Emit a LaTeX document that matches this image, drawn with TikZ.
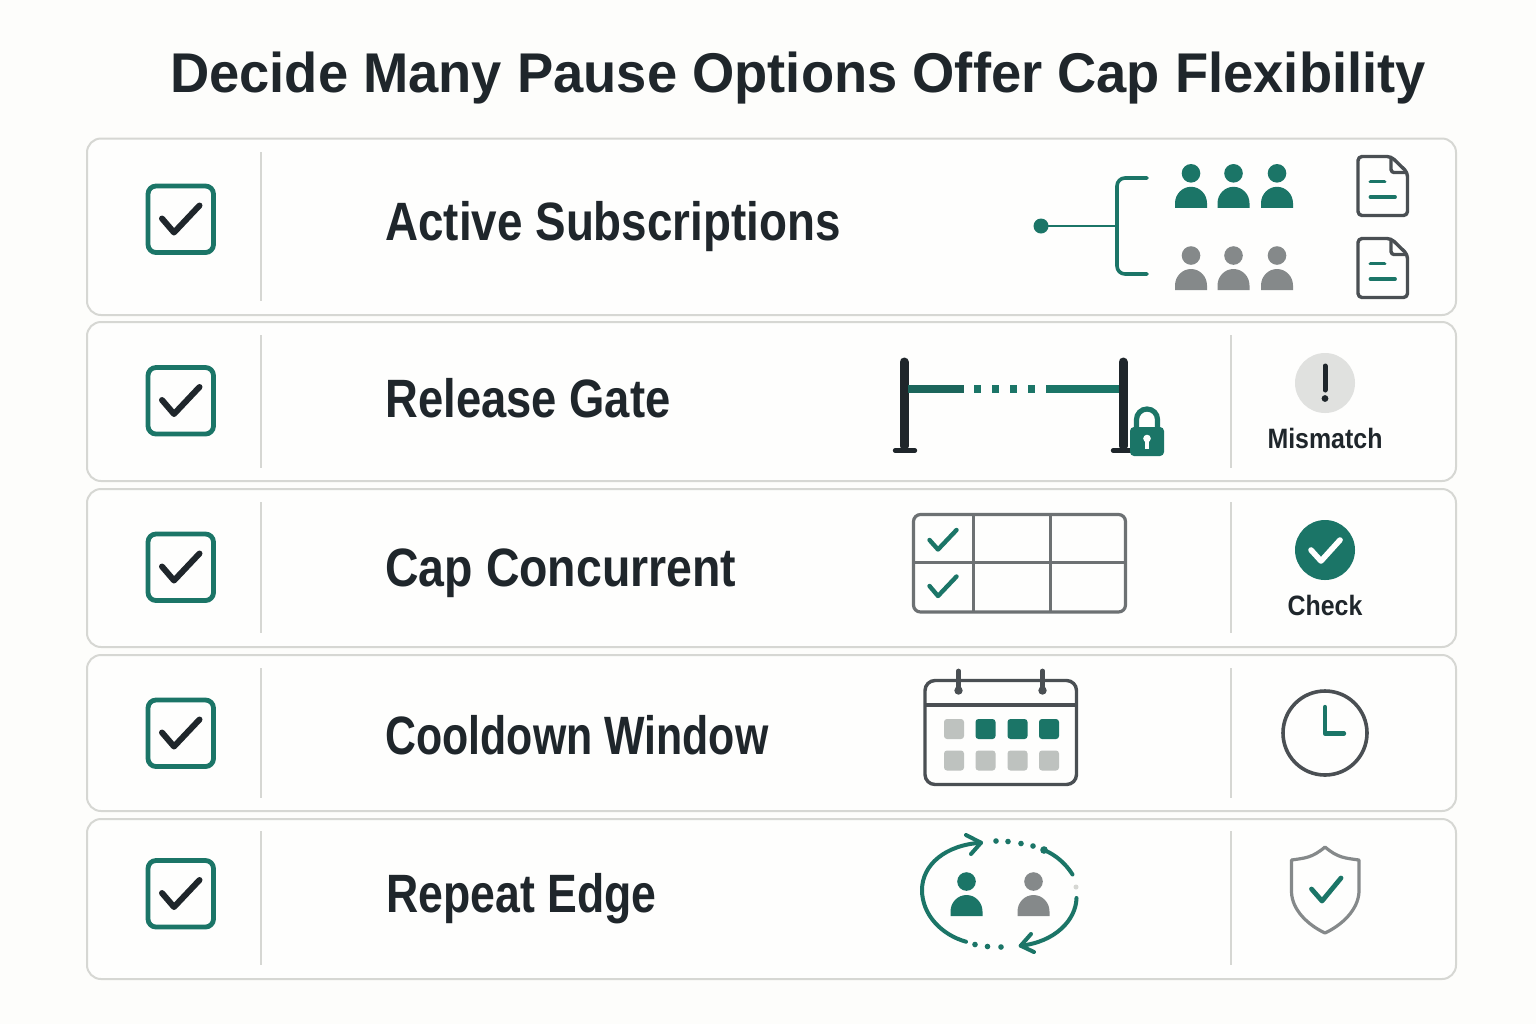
\documentclass[tikz,border=0pt]{standalone}
\usepackage{fontspec}
\setmainfont{Liberation Sans}
\newfontfamily\titlefont[FakeStretch=0.97]{Liberation Sans}
\newfontfamily\rowfont[FakeStretch=0.9]{Liberation Sans}
\newfontfamily\smallfont[FakeStretch=0.89]{Liberation Sans}
\definecolor{bgc}{HTML}{FDFDFB}
\definecolor{cardc}{HTML}{FEFEFD}
\definecolor{edgec}{HTML}{D6D7D3}
\definecolor{teal1}{HTML}{1B7567}
\definecolor{ink}{HTML}{1F262B}
\definecolor{greyp}{HTML}{85898A}
\definecolor{slate}{HTML}{4A4F53}
\definecolor{tablec}{HTML}{6D7173}
\definecolor{sq}{HTML}{BEC2BF}
\definecolor{badge}{HTML}{E0E1DF}
\tikzset{
  x=0.5pt,y=-0.5pt,
  card/.style={draw=edgec,line width=1pt,fill=cardc,rounded corners=7pt},
  divider/.style={draw=edgec,line width=0.9pt},
  boxst/.style={draw=teal1,line width=2.4pt,rounded corners=4pt},
  tick/.style={draw=ink,line width=3pt,line cap=round,line join=round},
  ticksmall/.style={draw=teal1,line width=2.2pt,line cap=round,line join=round},
  rowlabel/.style={anchor=base west,inner sep=0pt,font=\rowfont\fontsize{27}{30}\selectfont\bfseries,text=ink},
  sidelabel/.style={anchor=base,inner sep=0pt,font=\smallfont\fontsize{14}{16}\selectfont\bfseries,text=ink},
  tealline/.style={draw=teal1,line width=1.8pt,line cap=round},
  cycleline/.style={draw=teal1,line width=2pt,line cap=round,line join=round},
  docst/.style={draw=slate,line width=1.7pt,line join=round},
}
\newcommand{\persona}[3]{%
  \fill[#3] (#1,#2) circle (9.3);
  \fill[#3] (#1-16,#2+34.5) -- (#1-16,#2+30) arc[x radius=16,y radius=16.5,start angle=180,end angle=360] -- (#1+16,#2+34.5) -- cycle;
}
\newcommand{\docicon}[2]{%
  \draw[docst,rounded corners=2pt] (#1+33,#2) -- (#1,#2) -- (#1,#2+59) -- (#1+49.5,#2+59) -- (#1+49.5,#2+16) -- cycle;
  \draw[docst,rounded corners=1.5pt] (#1+33,#2+0.5) -- (#1+33,#2+16) -- (#1+49,#2+16);
  \draw[tealline,line width=1.9pt] (#1+12.5,#2+25) -- (#1+26.5,#2+25);
  \draw[tealline,line width=1.9pt] (#1+12.5,#2+40.5) -- (#1+37,#2+40.5);
}
\newcommand{\checkbox}[1]{%
  \draw[boxst] (148,#1-33) rectangle (213.5,#1+33.5);
  \draw[tick] (162,#1-.5) -- (174,#1+13.5) -- (199.5,#1-13.5);
}
\begin{document}
\begin{tikzpicture}
\useasboundingbox (0,0) rectangle (1536,1024);
\fill[bgc] (0,0) rectangle (1536,1024);
\node[anchor=base,inner sep=0pt,font=\titlefont\fontsize{28}{34}\selectfont\bfseries,text=ink] (title) at (798,92) {Decide Many Pause Options Offer Cap Flexibility};
% cards
\draw[card] (87,138.5) rectangle (1456,315);
\draw[card] (87,322) rectangle (1456,481);
\draw[card] (87,489) rectangle (1456,647);
\draw[card] (87,655) rectangle (1456,811);
\draw[card] (87,819) rectangle (1456,979);
% dividers
\draw[divider] (261,152) -- (261,301);
\draw[divider] (261,335) -- (261,468);
\draw[divider] (261,502) -- (261,633);
\draw[divider] (261,668) -- (261,798);
\draw[divider] (261,831) -- (261,965);
\draw[divider] (1231,335) -- (1231,468);
\draw[divider] (1231,502) -- (1231,633);
\draw[divider] (1231,668) -- (1231,798);
\draw[divider] (1231,831) -- (1231,965);
% checkboxes
\checkbox{219}\checkbox{400.5}\checkbox{567}\checkbox{733}\checkbox{893.5}
% labels
\node[rowlabel] (l1) at (385,240) {\scalebox{.942}[1]{Active Subscriptions}};
\node[rowlabel] (l2) at (385,417) {\scalebox{.934}[1]{Release Gate}};
\node[rowlabel] (l3) at (385,586) {\scalebox{.956}[1]{Cap Concurrent}};
\node[rowlabel] (l4) at (385,754) {\scalebox{.882}[1]{Cooldown Window}};
\node[rowlabel] (l5) at (386,912) {\scalebox{.918}[1]{Repeat Edge}};
% row 1 tree
\fill[teal1] (1041,226) circle (7.5);
\draw[tealline,line width=1.3pt] (1041,226) -- (1117,226);
\draw[tealline,rounded corners=4pt] (1147,178) -- (1117,178) -- (1117,274) -- (1147,274);
\persona{1191}{173.3}{teal1}\persona{1233.5}{173.3}{teal1}\persona{1277}{173.3}{teal1}
\persona{1191}{255.5}{greyp}\persona{1233.5}{255.5}{greyp}\persona{1277}{255.5}{greyp}
\docicon{1358}{156.5}\docicon{1358}{238.5}
% row 2 gate
\draw[ink,line width=4.5pt,line cap=round] (904,362) -- (904,446);
\draw[ink,line width=4.5pt,line cap=round] (1123,362) -- (1123,446);
\draw[ink,line width=2.2pt,line cap=round] (895,450.5) -- (915,450.5);
\draw[ink,line width=2.2pt,line cap=round] (1113,450.5) -- (1133,450.5);
\fill[teal1!80!ink] (908,384.7) rectangle (963.5,392.7);
\foreach \xa in {974,992,1010,1028} \fill[teal1] (\xa,384.7) rectangle (\xa+7,392.7);
\fill[teal1] (1046,384.7) rectangle (1119,392.7);
\draw[teal1,line width=2.6pt] (1136.5,428) -- (1136.5,419.5) arc[radius=10.5,start angle=180,end angle=360] -- (1157.5,428);
\fill[teal1,rounded corners=2pt] (1130,427) rectangle (1164,456);
\fill[cardc] (1147,438.5) circle (3.8);
\fill[cardc] (1145,438) rectangle (1149,449);
\fill[badge] (1325,383) circle (30);
\draw[ink,line width=2.5pt,line cap=round] (1325,366) -- (1325,390);
\fill[ink] (1325,398.5) circle (3.4);
\node[sidelabel] (m) at (1325,448) {Mismatch};
% row 3 table
\draw[draw=tablec,line width=1.6pt,rounded corners=3.5pt] (913.5,514.5) rectangle (1125.5,612);
\draw[draw=tablec,line width=1.4pt] (913.5,562.5) -- (1125.5,562.5);
\draw[draw=tablec,line width=1.4pt] (973.5,514.5) -- (973.5,612);
\draw[draw=tablec,line width=1.4pt] (1050.5,514.5) -- (1050.5,612);
\draw[ticksmall] (929.5,540) -- (938,549.5) -- (956.5,530);
\draw[ticksmall] (929.5,586) -- (938,596) -- (956.5,576.5);
\fill[teal1] (1325,550) circle (30);
\draw[draw=white,line width=2.8pt,line cap=round,line join=round] (1311,550) -- (1321,561) -- (1340,540);
\node[sidelabel] (c) at (1325,615) {Check};
% row 4 calendar
\draw[draw=slate,line width=1.7pt,rounded corners=5pt] (925,680.5) rectangle (1076.5,784.5);
\draw[draw=slate,line width=1.7pt] (925,705) -- (1076.5,705);
\foreach \xa in {958.5,1042.5}{
  \draw[draw=slate,line width=2.4pt,line cap=round] (\xa,671) -- (\xa,690);
  \fill[slate] (\xa,690.5) circle (4.2);
}
\foreach \xa/\ya/\ca in {954/729/sq,985.5/729/teal1,1017.5/729/teal1,1049/729/teal1,954/760.5/sq,985.5/760.5/sq,1017.5/760.5/sq,1049/760.5/sq}
  \fill[\ca,rounded corners=1.5pt] (\xa-10,\ya-10) rectangle (\xa+10,\ya+10);
\draw[draw=slate,line width=1.8pt] (1325,733) circle (42);
\draw[draw=teal1,line width=2.2pt,line cap=round,line join=round] (1325,707) -- (1325,733.5) -- (1344,733.5);
% row 5 cycle
\draw[cycleline] (981,842.7) .. controls (945,845) and (922,865) .. (922,890) .. controls (922,915) and (942,935) .. (966,941.7);
\draw[cycleline] (966,835) -- (981,842.7) -- (971,854);
\foreach \xa/\ya in {975/944.5,987.5/946.5,1001/947,996/841,1008/841.5,1021/843.5,1033/846}
  \fill[teal1] (\xa,\ya) circle (2.8);
\fill[teal1] (1044,850) circle (3.8);
\draw[cycleline] (1044,850) .. controls (1056,855) and (1066,864) .. (1072.5,874.5);
\fill[edgec] (1076,887) circle (2.5);
\draw[cycleline] (1076.5,898) .. controls (1076,920) and (1055,942) .. (1020.7,945.7);
\draw[cycleline] (1031,934) -- (1020.7,945.7) -- (1034,952);
\persona{966.5}{881.5}{teal1}\persona{1033.5}{881.5}{greyp}
% shield
\draw[draw=greyp,line width=1.6pt,line join=round] (1325,847) .. controls (1312,858) and (1305,858) .. (1291.5,860) -- (1291.5,892) .. controls (1292,910) and (1308,925) .. (1325,933) .. controls (1342,925) and (1358,910) .. (1359,892) -- (1359,860) .. controls (1345,858) and (1338,858) .. (1325,847) -- cycle;
\draw[ticksmall,line width=2.4pt] (1311.5,889) -- (1322,901) -- (1341,878);
\end{tikzpicture}
\end{document}
